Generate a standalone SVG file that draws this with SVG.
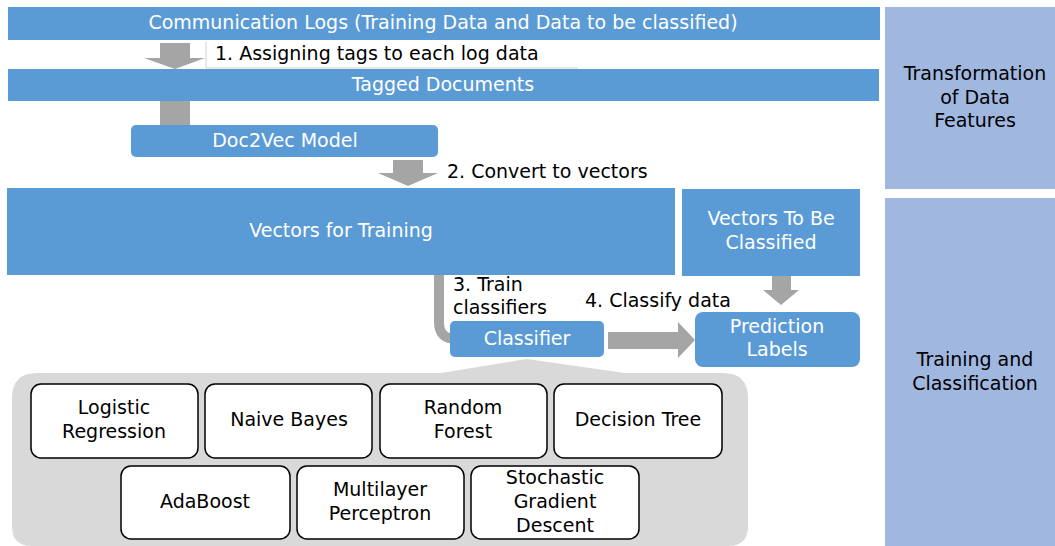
<svg xmlns="http://www.w3.org/2000/svg" width="1055" height="546" viewBox="0 0 1055 546">
<style>
.blue{fill:#5b9bd5}
.side{fill:#a0b8e0}
.arr{fill:#a5a5a5}
.wt{font-family:"DejaVu Sans","Liberation Sans",sans-serif;font-size:19px;fill:#ffffff;text-anchor:middle}
.bt{font-family:"DejaVu Sans","Liberation Sans",sans-serif;font-size:19px;fill:#000000}
.bc{font-family:"DejaVu Sans","Liberation Sans",sans-serif;font-size:19px;fill:#000000;text-anchor:middle}
.alg{fill:#ffffff;stroke:#000000;stroke-width:1.5}
</style>
<rect width="1055" height="546" fill="#ffffff"/>

<g id="side-transformation">
<rect class="side" x="885" y="7" width="170" height="182"/>
<text class="bc" x="975" y="80">Transformation</text>
<text class="bc" x="975" y="104">of Data</text>
<text class="bc" x="975" y="127">Features</text>
</g>
<g id="side-training">
<rect class="side" x="885" y="198" width="170" height="348"/>
<text class="bc" x="975" y="366">Training and</text>
<text class="bc" x="975" y="390">Classification</text>
</g>

<g id="container">
<path d="M12,398 Q12,373 37,373 L441,373 L527,359 L625,373 L723,373 Q748,373 748,398 L748,526 Q748,546 728,546 L32,546 Q12,546 12,526 Z" fill="#d9d9d9"/>
</g>

<g id="connectors">
<polygon class="arr" points="160,43 190,43 190,58 205,58 175,69 144,58 160,58"/>
<rect class="arr" x="160" y="101" width="30" height="25"/>
<polygon class="arr" points="393,160 423,160 423,173 438,173 408,186 378,173 393,173"/>
<path d="M439,275 V322 Q439,339 456,339" fill="none" stroke="#a5a5a5" stroke-width="10"/>
<polygon class="arr" points="608,332 678,332 678,322 695,340 678,358 678,349 608,349"/>
<polygon class="arr" points="772,276 791,276 791,290 799,290 781,305 763,290 772,290"/>
</g>

<g id="label-1">
<rect x="206" y="42" width="372" height="26" fill="#ffffff"/>
<path d="M206,42 V68 H578" fill="none" stroke="#d0d0d0" stroke-width="1"/>
<text class="bt" x="215" y="60">1. Assigning tags to each log data</text>
</g>
<g id="label-2"><text class="bt" x="447" y="178">2. Convert to vectors</text></g>
<g id="label-3"><text class="bt" x="453" y="291">3. Train</text><text class="bt" x="453" y="314">classifiers</text></g>
<g id="label-4"><text class="bt" x="585" y="307">4. Classify data</text></g>

<g id="communication-logs">
<rect class="blue" x="8" y="7" width="872" height="33"/>
<text class="wt" x="443" y="29">Communication Logs (Training Data and Data to be classified)</text>
</g>
<g id="tagged-documents">
<rect class="blue" x="8" y="69" width="871" height="32"/>
<text class="wt" x="443" y="91">Tagged Documents</text>
</g>
<g id="doc2vec">
<rect class="blue" x="131" y="125" width="307" height="32" rx="5"/>
<text class="wt" x="285" y="147">Doc2Vec Model</text>
</g>
<g id="vectors-training">
<rect class="blue" x="7" y="188" width="668" height="87"/>
<text class="wt" x="341" y="237">Vectors for Training</text>
</g>
<g id="vectors-classified">
<rect class="blue" x="682" y="189" width="178" height="87"/>
<text class="wt" x="771" y="225">Vectors To Be</text>
<text class="wt" x="771" y="249">Classified</text>
</g>
<g id="classifier">
<rect class="blue" x="450" y="321" width="154" height="36" rx="5"/>
<text class="wt" x="527" y="345">Classifier</text>
</g>
<g id="prediction-labels">
<rect class="blue" x="695" y="312" width="165" height="55" rx="8"/>
<text class="wt" x="777" y="333">Prediction</text>
<text class="wt" x="777" y="356">Labels</text>
</g>

<g id="logistic-regression">
<rect class="alg" x="31" y="384" width="167" height="74" rx="10"/>
<text class="bc" x="114" y="414">Logistic</text>
<text class="bc" x="114" y="438">Regression</text>
</g>
<g id="naive-bayes">
<rect class="alg" x="205" y="384" width="167" height="74" rx="10"/>
<text class="bc" x="289" y="426">Naive Bayes</text>
</g>
<g id="random-forest">
<rect class="alg" x="380" y="384" width="167" height="74" rx="10"/>
<text class="bc" x="463" y="414">Random</text>
<text class="bc" x="463" y="438">Forest</text>
</g>
<g id="decision-tree">
<rect class="alg" x="554" y="384" width="168" height="74" rx="10"/>
<text class="bc" x="638" y="426">Decision Tree</text>
</g>
<g id="adaboost">
<rect class="alg" x="121" y="466" width="169" height="73" rx="10"/>
<text class="bc" x="205" y="508">AdaBoost</text>
</g>
<g id="multilayer-perceptron">
<rect class="alg" x="297" y="466" width="167" height="73" rx="10"/>
<text class="bc" x="380" y="496">Multilayer</text>
<text class="bc" x="380" y="520">Perceptron</text>
</g>
<g id="sgd">
<rect class="alg" x="471" y="466" width="168" height="73" rx="10"/>
<text class="bc" x="555" y="484">Stochastic</text>
<text class="bc" x="555" y="508">Gradient</text>
<text class="bc" x="555" y="532">Descent</text>
</g>
</svg>
